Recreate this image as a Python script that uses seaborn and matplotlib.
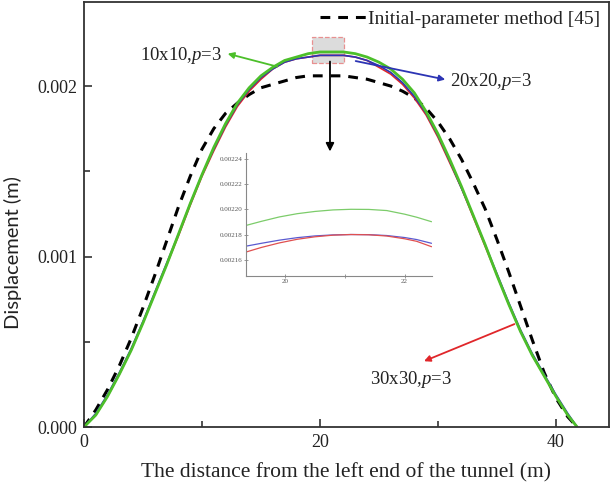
import numpy as np
import pandas as pd
import matplotlib
matplotlib.use("Agg")
import matplotlib.pyplot as plt
import seaborn as sns
from matplotlib.patches import Rectangle

# data (displacement in m)
x_fem = [0, 1, 2, 3, 4, 5, 6, 7, 8, 9, 10, 11, 12, 13, 14, 15, 16, 17, 18, 19, 20,
         21, 22, 23, 24, 25, 26, 27, 28, 29, 30, 31, 32, 33, 34, 35, 36, 37, 38, 39, 40,
         41, 41.8]
y_10 = [0, 0.07, 0.18, 0.31, 0.45, 0.61, 0.78, 0.95, 1.13, 1.31, 1.48, 1.64, 1.78, 1.90,
        1.99, 2.06, 2.11, 2.15, 2.17, 2.19, 2.20, 2.20, 2.20, 2.19, 2.17, 2.14, 2.10, 2.04,
        1.96, 1.85, 1.72, 1.57, 1.41, 1.24, 1.07, 0.89, 0.72, 0.56, 0.42, 0.30, 0.18, 0.07, 0]
y_20 = [0, 0.08, 0.19, 0.32, 0.46, 0.62, 0.79, 0.96, 1.13, 1.31, 1.48, 1.63, 1.77, 1.89,
        1.98, 2.05, 2.10, 2.14, 2.16, 2.17, 2.18, 2.18, 2.18, 2.17, 2.15, 2.12, 2.08, 2.02,
        1.94, 1.84, 1.71, 1.56, 1.40, 1.24, 1.07, 0.90, 0.73, 0.57, 0.43, 0.31, 0.19, 0.08, 0]
y_30 = [0, 0.07, 0.18, 0.31, 0.45, 0.61, 0.78, 0.95, 1.12, 1.30, 1.47, 1.62, 1.76, 1.88,
        1.97, 2.04, 2.10, 2.14, 2.16, 2.17, 2.18, 2.18, 2.18, 2.17, 2.15, 2.11, 2.07, 2.01,
        1.93, 1.83, 1.70, 1.55, 1.40, 1.23, 1.06, 0.89, 0.72, 0.56, 0.42, 0.30, 0.18, 0.07, 0]
y_ref = [0, 0.10, 0.22, 0.36, 0.52, 0.70, 0.89, 1.09, 1.29, 1.47, 1.63, 1.75, 1.84, 1.90,
         1.95, 1.99, 2.01, 2.03, 2.05, 2.06, 2.06, 2.06, 2.06, 2.05, 2.04, 2.02, 2.00, 1.97,
         1.93, 1.87, 1.79, 1.69, 1.57, 1.43, 1.28, 1.10, 0.91, 0.71, 0.51, 0.32, 0.17, 0.06, 0]

# zoomed inset near the crown
x_in = [19.34, 19.6, 19.9, 20.2, 20.5, 20.8, 21.1, 21.4, 21.7, 22.0, 22.2, 22.45]
in_10 = [2.1872, 2.1905, 2.1940, 2.1966, 2.1984, 2.1996, 2.2001, 2.2000, 2.1991, 2.1962, 2.1938, 2.1902]
in_20 = [2.1707, 2.1730, 2.1755, 2.1775, 2.1789, 2.1797, 2.1800, 2.1799, 2.1792, 2.1776, 2.1760, 2.1730]
in_30 = [2.1660, 2.1697, 2.1733, 2.1762, 2.1782, 2.1795, 2.1800, 2.1798, 2.1788, 2.1766, 2.1746, 2.1703]

df = pd.DataFrame({"x": x_fem,
                   "m10": np.array(y_10) * 1e-3,
                   "m20": np.array(y_20) * 1e-3,
                   "m30": np.array(y_30) * 1e-3,
                   "ref": np.array(y_ref) * 1e-3})
dfi = pd.DataFrame({"x": x_in,
                    "m10": np.array(in_10) * 1e-3,
                    "m20": np.array(in_20) * 1e-3,
                    "m30": np.array(in_30) * 1e-3})

sns.set_style("ticks")
plt.rcParams['font.family'] = ['Liberation Serif', 'DejaVu Serif']
plt.rcParams['mathtext.fontset'] = 'custom'
plt.rcParams['mathtext.rm'] = 'Liberation Serif'
plt.rcParams['mathtext.it'] = 'Liberation Serif:italic'

GREEN = "#4cbf2a"
BLUE = "#2c34b4"
RED = "#e0262a"
FRAME = "#333333"
TXT = "#222222"

fig = plt.figure(figsize=(6.13, 4.91), dpi=100)
ax = fig.add_axes([0.137, 0.1303, 0.8565, 0.8656])

sns.lineplot(data=df, x="x", y="ref", ax=ax, color="black", linewidth=2.2,
             linestyle=(0, (3.2, 2.6)), label="Initial-parameter method [45]", sort=False)
sns.lineplot(data=df, x="x", y="m30", ax=ax, color=RED, linewidth=1.2, sort=False, legend=False)
sns.lineplot(data=df, x="x", y="m20", ax=ax, color=BLUE, linewidth=1.2, sort=False, legend=False)
sns.lineplot(data=df, x="x", y="m10", ax=ax, color=GREEN, linewidth=2.0, sort=False, legend=False)

ax.set_xlim(0, 44.5)
ax.set_ylim(0, 0.002493)
ax.set_xticks([0, 20, 40])
ax.set_xticks([10, 30], minor=True)
ax.set_yticks([0, 0.001, 0.002])
ax.set_yticks([0.0005, 0.0015], minor=True)
ax.set_yticklabels(["0.000", "0.001", "0.002"])
ax.tick_params(which="both", direction="in", color=FRAME, labelsize=13, width=1.2,
               labelcolor=TXT)
ax.tick_params(which="major", length=6, pad=5)
ax.tick_params(which="minor", length=4)
for s in ax.spines.values():
    s.set_color(FRAME)
    s.set_linewidth(1.3)
ax.set_xlabel("The distance from the left end of the tunnel (m)", fontsize=15.5,
              labelpad=9, color=TXT)
ax.set_ylabel("Displacement (m)", fontsize=14.5, family=["Lato", "DejaVu Sans"], color=TXT)
ax.yaxis.set_label_coords(-0.118, 0.41)

leg = ax.legend(loc="upper right", bbox_to_anchor=(1.005, 1.008), frameon=False,
                fontsize=14, handlelength=2.4, handletextpad=0.05, borderaxespad=0.2)
for t in leg.get_texts():
    t.set_color(TXT)

# zoom box and arrow
ax.add_patch(Rectangle((19.3, 0.002135), 2.7, 0.000152, facecolor="#dcdcdc",
                       edgecolor="#e89090", linestyle="--", linewidth=0.9, zorder=1))
ax.annotate("", xy=(20.85, 0.00160), xytext=(20.85, 0.00216),
            arrowprops=dict(arrowstyle="-|>", color="black", lw=1.3, mutation_scale=12))

# labels with arrows
ax.annotate("", xy=(11.95, 0.002194), xytext=(16.6, 0.00211),
            arrowprops=dict(arrowstyle="-|>", color=GREEN, lw=1.3, mutation_scale=9))
ax.text(11.7, 0.002182, "10x10,$p$=3", fontsize=13.5, ha="right", va="center", color=TXT)
ax.annotate("", xy=(30.85, 0.002035), xytext=(22.8, 0.00215),
            arrowprops=dict(arrowstyle="-|>", color=BLUE, lw=1.3, mutation_scale=9))
ax.text(31.0, 0.002029, "20x20,$p$=3", fontsize=13.5, ha="left", va="center", color=TXT)
ax.annotate("", xy=(28.6, 0.00038), xytext=(36.7, 0.00061),
            arrowprops=dict(arrowstyle="-|>", color=RED, lw=1.3, mutation_scale=9))
ax.text(24.2, 0.000276, "30x30,$p$=3", fontsize=13.5, ha="left", va="center", color=TXT)

# inset
axi = fig.add_axes([0.401, 0.438, 0.303, 0.2505])
sns.lineplot(data=dfi, x="x", y="m10", ax=axi, color="#7ccc6a", linewidth=0.9, sort=False)
sns.lineplot(data=dfi, x="x", y="m20", ax=axi, color="#5a5ad0", linewidth=0.9, sort=False)
sns.lineplot(data=dfi, x="x", y="m30", ax=axi, color="#e05050", linewidth=0.9, sort=False)
axi.set_xlim(19.34, 22.45)
axi.set_ylim(0.002147, 0.002245)
axi.set_xticks([20, 22])
axi.set_xticks([21], minor=True)
axi.set_yticks([0.00216, 0.00218, 0.00220, 0.00222, 0.00224])
axi.set_yticklabels(["0.00216", "0.00218", "0.00220", "0.00222", "0.00224"])
axi.set_xlabel("")
axi.set_ylabel("")
axi.patch.set_alpha(0)
for side in ["top", "right"]:
    axi.spines[side].set_visible(False)
for side in ["left", "bottom"]:
    axi.spines[side].set_color("#888888")
    axi.spines[side].set_linewidth(0.8)
axi.tick_params(which="both", direction="inout", length=3, width=0.6, color="#888888",
                labelsize=5, labelcolor="#555555", pad=1)

fig.savefig("out.png", dpi=100)
